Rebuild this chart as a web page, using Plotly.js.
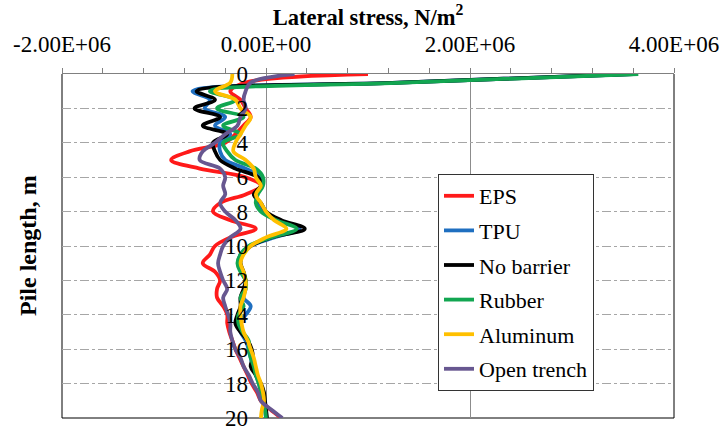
<!DOCTYPE html>
<html>
<head>
<meta charset="utf-8">
<script src="https://cdn.plot.ly/plotly-3.0.1.min.js"></script>
<style>
  html, body { margin: 0; padding: 0; background: #fff; }
  #chart { width: 723px; height: 430px; }
</style>
</head>
<body>
<div id="chart"></div>
<script>
// Depth along the pile (m)
const depth = [0, 0.5, 1, 1.5, 2, 2.5, 3, 3.5, 4, 4.5, 5, 5.5, 6, 6.5, 7, 7.5, 8, 8.5, 9, 9.5,
  10, 10.5, 11, 11.5, 12, 12.5, 13, 13.5, 14, 14.5, 15, 15.5, 16, 16.5, 17, 17.5, 18, 18.5, 19, 19.5, 20];

// Lateral stress on the pile for each barrier type, in MN/m² (x 1e6 N/m²)
const eps = [1.0, -0.2, -0.35, -0.25, -0.2, -0.15, -0.22, -0.3, -0.4, -0.75, -0.93, -0.65, -0.2, -0.05, -0.2, -0.45, -0.52, -0.35, -0.1, -0.35,
  -0.5, -0.55, -0.62, -0.5, -0.45, -0.48, -0.48, -0.42, -0.38, -0.38, -0.36, -0.33, -0.3, -0.26, -0.22, -0.18, -0.14, -0.09, -0.05, 0.04, 0.15];
const tpu = [3.6, 1.3, -0.72, -0.55, -0.6, -0.4, -0.5, -0.35, -0.45, -0.45, -0.4, -0.2, -0.05, -0.05, -0.1, -0.07, -0.03, 0.12, 0.33, 0.08,
  -0.15, -0.25, -0.27, -0.24, -0.2, -0.2, -0.22, -0.15, -0.2, -0.28, -0.25, -0.2, -0.17, -0.15, -0.13, -0.1, -0.07, -0.05, -0.03, -0.01, 0.0];
const noBarrier = [3.6, 1.3, -0.68, -0.5, -0.7, -0.45, -0.62, -0.38, -0.52, -0.5, -0.45, -0.3, -0.08, -0.05, -0.12, -0.05, 0.0, 0.15, 0.38, 0.05,
  -0.15, -0.23, -0.25, -0.22, -0.2, -0.22, -0.25, -0.25, -0.28, -0.3, -0.25, -0.18, -0.14, -0.13, -0.15, -0.1, -0.05, -0.02, -0.01, 0.0, 0.01];
const rubber = [3.65, 1.35, -0.55, -0.3, -0.48, -0.22, -0.42, -0.25, -0.42, -0.38, -0.3, -0.1, -0.03, -0.03, -0.08, -0.1, -0.05, 0.1, 0.3, 0.05,
  -0.17, -0.25, -0.28, -0.25, -0.2, -0.2, -0.25, -0.22, -0.27, -0.27, -0.23, -0.17, -0.17, -0.15, -0.12, -0.1, -0.07, -0.05, -0.03, -0.01, 0.0];
const aluminum = [-0.33, -0.35, -0.5, -0.3, -0.25, -0.15, -0.2, -0.25, -0.3, -0.32, -0.2, -0.12, -0.1, -0.05, -0.1, -0.05, 0.0, 0.08, 0.2, 0.0,
  -0.15, -0.22, -0.25, -0.22, -0.2, -0.2, -0.22, -0.25, -0.25, -0.24, -0.22, -0.18, -0.15, -0.12, -0.1, -0.08, -0.05, -0.03, -0.02, -0.04, -0.05];
const openTrench = [0.28, -0.15, -0.2, -0.22, -0.2, -0.25, -0.28, -0.4, -0.5, -0.62, -0.65, -0.45, -0.4, -0.42, -0.4, -0.45, -0.4, -0.3, -0.25, -0.35,
  -0.42, -0.45, -0.47, -0.45, -0.42, -0.38, -0.42, -0.4, -0.37, -0.35, -0.35, -0.33, -0.3, -0.25, -0.22, -0.17, -0.13, -0.08, -0.05, 0.05, 0.16];

const seriesNames = ['EPS', 'TPU', 'No barrier', 'Rubber', 'Aluminum', 'Open trench'];
const seriesValues = [eps, tpu, noBarrier, rubber, aluminum, openTrench];
const seriesColors = ['#ff1a1a', '#1f6fc0', '#000000', '#12a651', '#ffc000', '#675790'];

const xTickVals = [-2e6, 0, 2e6, 4e6];
const xTickText = ['-2.00E+06', '0.00E+00', '2.00E+06', '4.00E+06'];
const yTickVals = [0, 2, 4, 6, 8, 10, 12, 14, 16, 18, 20];

const serif = "'Times New Roman', 'Liberation Serif', serif";

const traces = seriesNames.map((name, i) => ({
  type: 'scatter',
  mode: 'lines',
  name: name,
  legendgroup: name,
  x: seriesValues[i].map(v => v * 1e6),
  y: depth,
  line: { color: seriesColors[i], width: 3.8, shape: 'spline', smoothing: 1 }
}));

const layout = {
  width: 723,
  height: 430,
  margin: { l: 62, r: 49, t: 74, b: 12 },
  paper_bgcolor: '#ffffff',
  plot_bgcolor: '#ffffff',
  font: { family: serif, size: 22, color: '#000' },
  showlegend: true,
  title: {
    text: '<b>Lateral stress, N/m<sup>2</sup></b>',
    font: { family: serif, size: 22.5, color: '#000' },
    x: 0.5, xref: 'paper', xanchor: 'center',
    y: 1 - 17 / 430, yref: 'container', yanchor: 'middle'
  },
  xaxis: {
    side: 'top',
    range: [-2e6, 4e6],
    tickmode: 'array',
    tickvals: xTickVals,
    ticktext: xTickText,
    ticks: 'outside',
    ticklen: 5,
    tickcolor: '#808080',
    ticklabelstandoff: 7,
    showline: true,
    linecolor: '#808080',
    linewidth: 1,
    showgrid: true,
    gridcolor: '#8c8c8c',
    gridwidth: 1,
    zeroline: false,
    minor: { tick0: 0, dtick: 4e5, ticks: 'outside', ticklen: 5, tickcolor: '#808080', showgrid: false },
    tickfont: { family: serif, size: 23, color: '#000' }
  },
  yaxis: {
    range: [20, 0],
    anchor: 'free',
    position: 1 / 3,
    tickmode: 'array',
    tickvals: yTickVals,
    ticks: '',
    ticklabelstandoff: 18,
    ticklabeloverflow: 'allow',
    showline: false,
    showgrid: true,
    gridcolor: '#a6a6a6',
    gridwidth: 1,
    griddash: 'dashdot',
    zeroline: false,
    tickfont: { family: serif, size: 23, color: '#000' }
  },
  legend: {
    x: (438 - 62) / 612, xanchor: 'left',
    y: (418 - 174) / 344, yanchor: 'top',
    bgcolor: '#ffffff',
    bordercolor: '#333333',
    borderwidth: 1,
    font: { family: serif, size: 22, color: '#000' },
    traceorder: 'grouped',
    tracegroupgap: 3,
    itemwidth: 30
  },
  annotations: [{
    text: '<b>Pile length, m</b>',
    textangle: -90,
    xref: 'paper', yref: 'paper',
    x: (28 - 62) / 612, y: 0.5,
    xanchor: 'center', yanchor: 'middle',
    showarrow: false,
    font: { family: serif, size: 24, color: '#000' }
  }],
  shapes: [
    { type: 'line', xref: 'paper', yref: 'paper', x0: 0, x1: 0, y0: 0, y1: 1, line: { color: '#000', width: 1 }, layer: 'between' },
    { type: 'line', xref: 'paper', yref: 'paper', x0: 0, x1: 1, y0: 0, y1: 0, line: { color: '#000', width: 1 }, layer: 'between' },
    { type: 'line', xref: 'paper', yref: 'paper', x0: 1, x1: 1, y0: 0, y1: 1, line: { color: '#000', width: 1 }, layer: 'between' }
  ]
};

Plotly.newPlot('chart', traces, layout, { displayModeBar: false, staticPlot: true });
</script>
</body>
</html>
